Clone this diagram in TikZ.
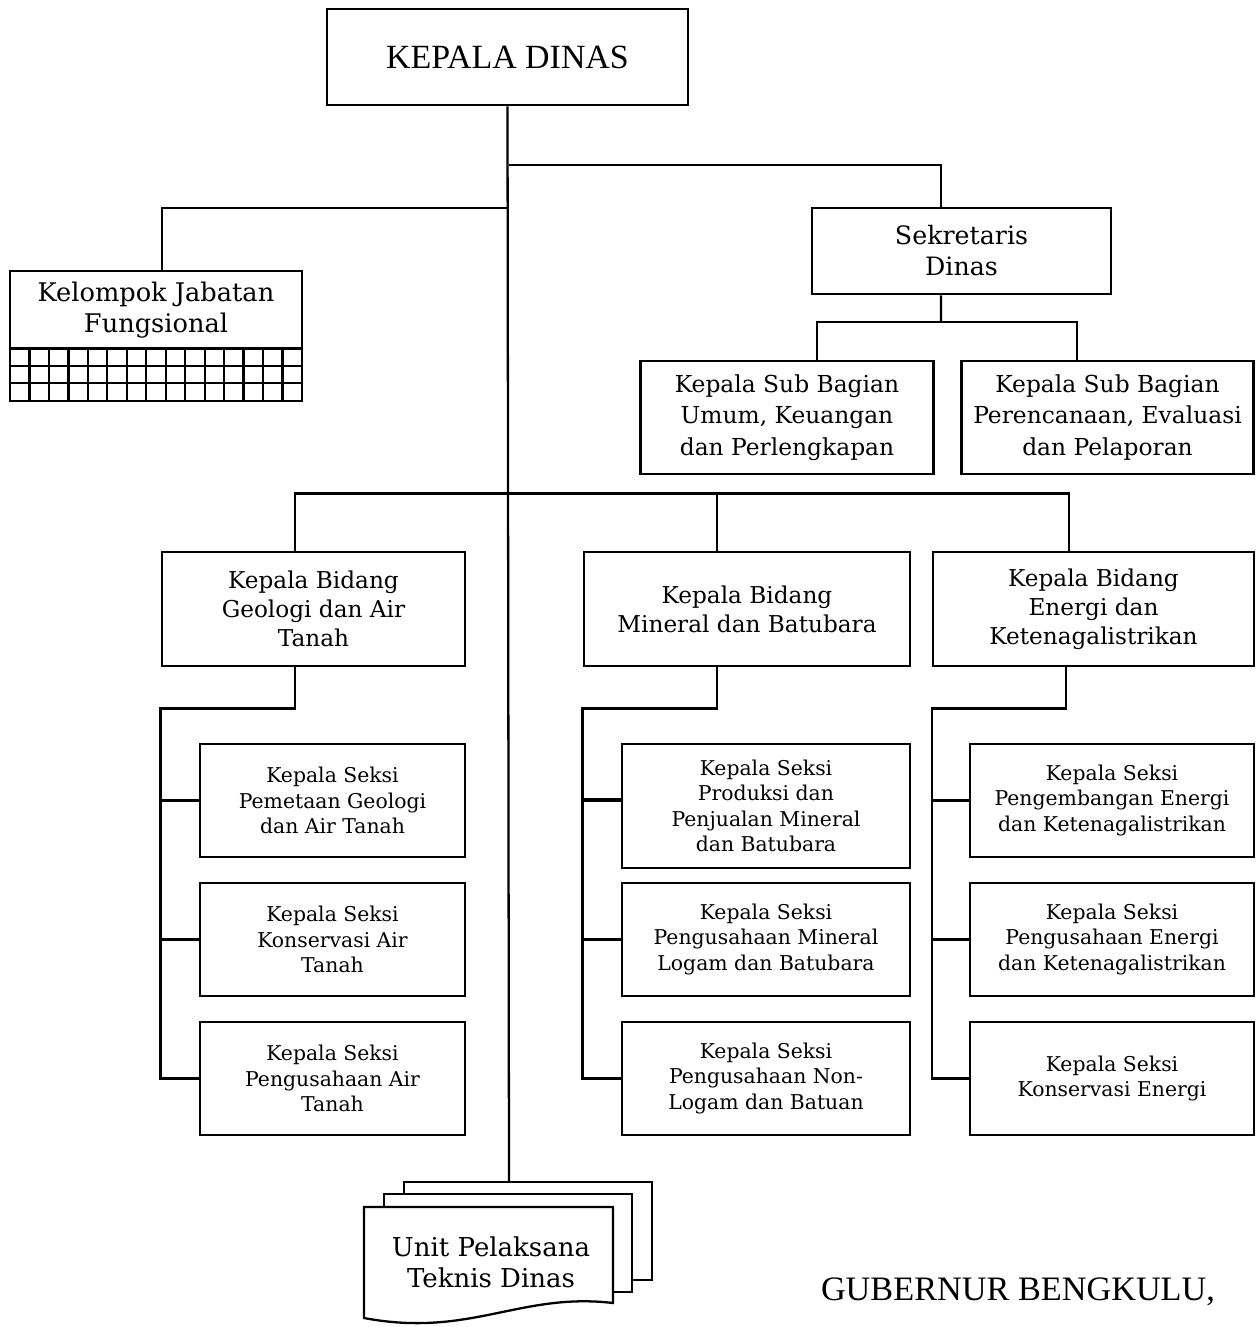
\documentclass[tikz,border=0pt]{standalone}
\usepackage{fontspec}
\setmainfont{DejaVu Serif}
\newfontfamily\capsfont{Liberation Serif}
\usepackage{tikz}
\usetikzlibrary{positioning, calc}

\begin{document}
\begin{tikzpicture}[
                                        x=0.02cm, y=-0.02cm,
                                        line width=1.3pt,
                                        box/.style={draw, line width=1.6pt, align=center, inner sep=0pt},
                                        bidang/.style={box, minimum height=2.28cm, font=\fontsize{13.2}{16.6}\selectfont},
                                        seksi/.style={box, minimum height=2.26cm, font=\fontsize{11.6}{14.4}\selectfont},
                                        subbag/.style={box, minimum width=5.85cm, minimum height=2.26cm, font=\fontsize{13.3}{18}\selectfont}
                                ]
                                \useasboundingbox (0,0) rectangle (1255,1327);

                                \node [box, minimum width=7.22cm, minimum height=1.92cm, font=\capsfont\fontsize{19.3}{22}\selectfont] (kadis) at (507.5,57) {KEPALA DINAS};
                                \node [box, minimum width=5.98cm, minimum height=1.72cm, font=\fontsize{14.4}{17.6}\selectfont] (sekdis) at (961.5,251) {Sekretaris\\Dinas};
                                \node [box, minimum width=5.84cm, minimum height=1.56cm, font=\fontsize{14.6}{17.6}\selectfont] (jafung) at (156,310) {Kelompok Jabatan\\Fungsional};
                                \node [subbag] (subum) at (787,417.5) {Kepala Sub Bagian\\Umum, Keuangan\\dan Perlengkapan};
                                \node [subbag] (subren) at (1107.5,417.5) {Kepala Sub Bagian\\Perencanaan, Evaluasi\\dan Pelaporan};

                                \node [bidang, minimum width=6.06cm] (bidgeo) at (313.5,609) {Kepala Bidang\\Geologi dan Air\\Tanah};
                                \node [bidang, minimum width=6.52cm] (bidmin) at (747,609) {Kepala Bidang\\Mineral dan Batubara};
                                \node [bidang, minimum width=6.42cm] (bideng) at (1093.5,609) {Kepala Bidang\\Energi dan\\Ketenagalistrikan};

                                \node [seksi, minimum width=5.3cm] (geo1) at (332.5,800.5) {Kepala Seksi\\Pemetaan Geologi\\dan Air Tanah};
                                \node [seksi, minimum width=5.3cm] (geo2) at (332.5,939.5) {Kepala Seksi\\Konservasi Air\\Tanah};
                                \node [seksi, minimum width=5.3cm] (geo3) at (332.5,1078.5) {Kepala Seksi\\Pengusahaan Air\\Tanah};
                                \node [seksi, minimum width=5.76cm, minimum height=2.48cm] (min1) at (766,806) {Kepala Seksi\\Produksi dan\\Penjualan Mineral\\dan Batubara};
                                \node [seksi, minimum width=5.76cm] (min2) at (766,939.5) {Kepala Seksi\\Pengusahaan Mineral\\Logam dan Batubara};
                                \node [seksi, minimum width=5.76cm] (min3) at (766,1078.5) {Kepala Seksi\\Pengusahaan Non-\\Logam dan Batuan};
                                \node [seksi, minimum width=5.68cm] (eng1) at (1112,800.5) {Kepala Seksi\\Pengembangan Energi\\dan Ketenagalistrikan};
                                \node [seksi, minimum width=5.68cm] (eng2) at (1112,939.5) {Kepala Seksi\\Pengusahaan Energi\\dan Ketenagalistrikan};
                                \node [seksi, minimum width=5.68cm] (eng3) at (1112,1078.5) {Kepala Seksi\\Konservasi Energi};

                                \draw [line width=1.6pt] (10,348) rectangle (302,401);
                                \foreach \i in {1,...,14}
                                        \draw ({10+\i*292/15},348) -- ({10+\i*292/15},401);
                                \foreach \j in {1,2}
                                        \draw (10,{348+\j*53/3}) -- (302,{348+\j*53/3});

                                \draw [fill=white] (404,1182) rectangle (652,1280);
                                \draw [fill=white] (384,1194) rectangle (632,1292);
                                \draw [fill=white] (364,1207) -- (613,1207) -- (613,1303)
                                        .. controls (520,1292) and (470,1338) .. (364,1318) -- cycle;
                                \node [font=\fontsize{14.8}{17.6}\selectfont, align=center] (upt) at (491,1262) {Unit Pelaksana\\Teknis Dinas};
                                \coordinate (upttop) at (509,1182);

                                \node [font=\capsfont\fontsize{19.5}{22}\selectfont, anchor=west] (gub) at (814,1292) {GUBERNUR BENGKULU,};

                                \coordinate (j1) at (509,208);
                                \coordinate (j2) at (509,165);
                                \coordinate (j3) at (941,322);

                                \draw (kadis.south) -- (upttop);
                                \draw (j2) -| ([xshift=-0.41cm]sekdis.north);
                                \draw ([xshift=0.12cm]jafung.north) |- (j1);
                                \draw ([xshift=-0.41cm]sekdis.south) -- (j3);
                                \draw ([xshift=0.6cm]subum.north) |- (j3) -| ([xshift=-0.61cm]subren.north);

                                \draw ([xshift=-0.37cm]bidgeo.north) -- ++(0,-57) -| ([xshift=-0.49cm]bideng.north);
                                \draw ([xshift=-0.6cm]bidmin.north) -- ++(0,-57);

                                \draw ([xshift=-0.37cm]bidgeo.south) |- ([yshift=-0.82cm]bidgeo.south west) |- (geo3.west);
                                \draw [line width=1.8pt] (geo1.west) -- (geo1.west -| bidgeo.west);
                                \draw (geo2.west) -- (geo2.west -| bidgeo.west);
                                \draw ([xshift=-0.6cm]bidmin.south) |- ([yshift=-0.82cm]bidmin.south west) |- (min3.west);
                                \draw [line width=1.8pt] ([yshift=0.12cm]min1.west) -- ([yshift=0.12cm]min1.west -| bidmin.west);
                                \draw (min2.west) -- (min2.west -| bidmin.west);
                                \draw ([xshift=-0.55cm]bideng.south) |- ([yshift=-0.82cm]bideng.south west) |- (eng3.west);
                                \draw [line width=1.8pt] (eng1.west) -- (eng1.west -| bideng.west);
                                \draw (eng2.west) -- (eng2.west -| bideng.west);
                        \end{tikzpicture}
\end{document}
